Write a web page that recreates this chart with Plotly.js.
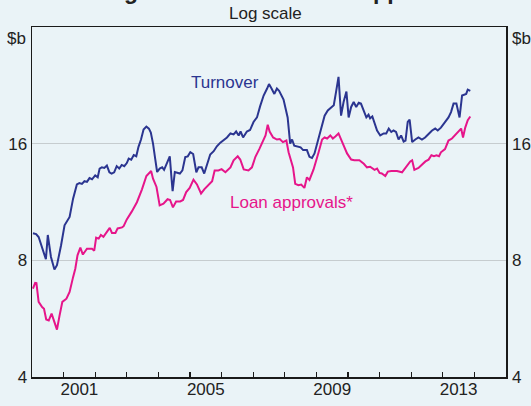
<!DOCTYPE html>
<html>
<head>
<meta charset="utf-8">
<script src="https://cdn.plot.ly/plotly-3.0.1.min.js"></script>
<style>html,body{margin:0;padding:0;background:#eaf3f7;}#chart{width:531px;height:406px;}</style>
</head>
<body>
<div id="chart"></div>
<script>
// Decimal-year positions and values ($b, log scale)
const turnoverX = [2000.03,2000.13,2000.21,2000.32,2000.44,2000.50,2000.60,2000.71,2000.79,2000.92,2001.03,2001.19,2001.30,2001.42,2001.50,2001.58,2001.66,2001.74,2001.82,2001.90,2002.00,2002.08,2002.14,2002.21,2002.29,2002.37,2002.45,2002.52,2002.60,2002.68,2002.76,2002.84,2002.92,2003.00,2003.06,2003.14,2003.22,2003.30,2003.37,2003.45,2003.53,2003.62,2003.70,2003.76,2003.83,2003.90,2003.96,2004.04,2004.12,2004.18,2004.27,2004.36,2004.41,2004.45,2004.52,2004.60,2004.68,2004.76,2004.85,2004.93,2005.01,2005.10,2005.20,2005.27,2005.37,2005.45,2005.54,2005.64,2005.75,2005.85,2005.96,2006.06,2006.17,2006.28,2006.38,2006.46,2006.54,2006.60,2006.68,2006.80,2006.90,2007.01,2007.12,2007.22,2007.33,2007.44,2007.50,2007.58,2007.67,2007.75,2007.82,2007.96,2008.09,2008.17,2008.23,2008.30,2008.39,2008.50,2008.58,2008.70,2008.78,2008.86,2008.94,2009.07,2009.18,2009.26,2009.36,2009.45,2009.55,2009.63,2009.70,2009.78,2009.86,2009.95,2010.02,2010.10,2010.18,2010.26,2010.34,2010.41,2010.49,2010.58,2010.65,2010.70,2010.77,2010.84,2010.92,2011.02,2011.13,2011.21,2011.29,2011.37,2011.44,2011.52,2011.60,2011.68,2011.76,2011.82,2011.89,2011.95,2012.03,2012.13,2012.23,2012.34,2012.44,2012.55,2012.66,2012.76,2012.84,2012.94,2013.05,2013.18,2013.26,2013.34,2013.43,2013.53,2013.61,2013.68,2013.74,2013.79,2013.87];
const turnoverVal = [9.4,9.35,9.19,8.66,8.05,9.3,8.16,7.58,7.77,8.75,9.85,10.35,11.54,12.56,12.66,12.6,12.8,12.75,13.04,12.95,13.25,13.1,13.8,13.9,13.85,14.05,13.5,13.39,13.5,14.0,13.8,14.1,14.0,14.26,14.64,14.55,14.95,14.85,15.7,16.4,17.4,17.7,17.5,17.1,16.0,14.6,13.52,13.8,13.9,13.7,14.2,14.84,13.17,12.07,13.52,13.45,13.4,13.65,14.77,14.84,15.22,15.05,13.5,13.9,13.9,13.4,14.05,15.0,15.3,15.75,16.1,16.3,16.6,17.0,16.9,17.2,16.8,17.2,16.6,17.2,17.35,18.2,18.7,20.0,21.3,22.2,22.8,22.2,21.5,22.2,21.9,20.8,18.7,16.0,16.4,15.8,15.75,15.65,15.4,15.4,14.8,14.7,15.1,16.5,17.6,18.9,19.5,19.8,20.1,21.95,23.8,18.9,20.5,21.8,18.7,19.9,20.5,19.9,20.4,20.3,19.5,18.7,19.0,18.6,18.8,18.0,17.3,16.8,17.0,17.0,17.5,17.15,17.3,17.15,16.4,16.8,16.2,16.3,18.2,18.45,16.15,16.4,16.6,16.4,16.6,16.95,17.3,17.5,17.3,17.6,18.1,18.7,19.3,20.3,20.3,18.7,21.3,21.4,21.5,22.05,21.9];

const loanX = [2000.03,2000.10,2000.14,2000.21,2000.32,2000.38,2000.45,2000.53,2000.62,2000.70,2000.79,2000.87,2000.96,2001.09,2001.19,2001.30,2001.37,2001.44,2001.53,2001.61,2001.74,2001.90,2001.97,2002.03,2002.11,2002.18,2002.26,2002.37,2002.46,2002.53,2002.64,2002.71,2002.85,2002.90,2003.00,2003.16,2003.32,2003.48,2003.62,2003.77,2003.83,2003.94,2004.04,2004.16,2004.29,2004.37,2004.46,2004.56,2004.69,2004.78,2004.88,2004.99,2005.11,2005.22,2005.35,2005.45,2005.59,2005.70,2005.78,2005.90,2006.00,2006.12,2006.28,2006.38,2006.51,2006.59,2006.70,2006.85,2006.96,2007.07,2007.20,2007.33,2007.39,2007.46,2007.52,2007.63,2007.75,2007.84,2007.94,2008.05,2008.12,2008.26,2008.33,2008.43,2008.52,2008.62,2008.70,2008.78,2008.91,2009.07,2009.18,2009.26,2009.34,2009.44,2009.52,2009.60,2009.70,2009.81,2009.97,2010.10,2010.20,2010.36,2010.50,2010.60,2010.70,2010.84,2010.92,2011.00,2011.07,2011.18,2011.26,2011.37,2011.55,2011.71,2011.83,2011.97,2012.03,2012.10,2012.23,2012.34,2012.45,2012.55,2012.64,2012.72,2012.80,2012.88,2012.94,2013.07,2013.18,2013.29,2013.40,2013.50,2013.58,2013.64,2013.71,2013.79,2013.87];
const loanVal = [6.76,7.0,6.99,6.25,6.06,6.0,5.63,5.6,5.83,5.6,5.3,5.75,6.25,6.37,6.63,7.24,7.61,8.24,8.63,8.28,8.57,8.57,8.47,9.15,9.1,9.3,9.2,9.47,9.7,9.41,9.41,9.67,9.73,9.8,10.2,10.7,11.3,12.2,13.2,13.6,13.0,12.37,11.09,11.2,11.5,11.45,10.96,11.35,11.35,11.45,12.0,12.3,12.92,12.56,11.9,12.2,12.5,12.8,13.65,13.65,13.75,13.5,13.9,14.49,14.84,14.56,13.73,13.65,13.9,14.8,15.53,16.5,16.8,17.9,17.2,16.6,16.4,16.45,16.15,16.3,15.2,13.9,12.6,12.5,12.55,12.3,13.1,12.9,13.73,15.2,16.4,16.6,16.5,16.8,16.5,16.7,17.0,16.2,15.1,14.56,14.5,14.5,14.2,13.9,13.95,13.7,13.8,13.45,13.4,13.2,13.55,13.6,13.6,13.5,13.9,14.4,14.5,13.7,13.85,14.1,14.4,14.55,14.93,14.85,14.93,14.85,15.2,15.5,16.3,16.5,16.9,17.3,17.5,16.6,17.6,18.4,18.8];

const yTicks = [4, 8, 16];
const yearTicks = [2000,2001,2002,2003,2004,2005,2006,2007,2008,2009,2010,2011,2012,2013,2014,2015];
const xLabelYears = [2001, 2005, 2009, 2013];

const BG = '#eaf3f7';
const BLUE = '#2b3590';
const PINK = '#e6158a';
const FONT = 'Arial, "Liberation Sans", sans-serif';
const TXT = '#222222';
const AXC = '#1a1a1a';

const traces = [
  {x: turnoverX, y: turnoverVal, type: 'scatter', mode: 'lines', line: {color: BLUE, width: 2}, hoverinfo: 'skip'},
  {x: loanX, y: loanVal, type: 'scatter', mode: 'lines', line: {color: PINK, width: 2}, hoverinfo: 'skip'},
  // invisible copy on the overlay axes so the right-hand labels and year labels render
  {x: loanX, y: loanVal, xaxis: 'x2', yaxis: 'y2', type: 'scatter', mode: 'lines', opacity: 0, line: {color: PINK, width: 0}, hoverinfo: 'skip'}
];

const xRange = [2000, 2015];
const yRange = [Math.log10(4), Math.log10(32)];

const layout = {
  width: 531, height: 406,
  margin: {l: 32, r: 25, t: 27, b: 29, pad: 0},
  paper_bgcolor: BG, plot_bgcolor: BG,
  showlegend: false,
  font: {family: FONT, size: 17, color: TXT},
  xaxis: {
    type: 'linear', range: xRange, fixedrange: true,
    tickmode: 'array', tickvals: yearTicks, ticktext: yearTicks.map(() => ''),
    ticks: 'inside', ticklen: 5, tickwidth: 1.2, tickcolor: AXC,
    showgrid: false, zeroline: false,
    showline: true, linecolor: AXC, linewidth: 1.5, mirror: true
  },
  xaxis2: {
    type: 'linear', range: xRange, overlaying: 'x', side: 'bottom', anchor: 'y2', fixedrange: true,
    tickmode: 'array', tickvals: xLabelYears.map(v => v + 0.5), ticktext: xLabelYears.map(String),
    ticks: '', showgrid: false, zeroline: false, showline: false,
    tickfont: {family: FONT, size: 17, color: TXT}
  },
  yaxis: {
    type: 'log', range: yRange, fixedrange: true,
    tickmode: 'array', tickvals: yTicks, ticktext: yTicks.map(String),
    ticks: '', showgrid: true, gridcolor: '#c6cccf', gridwidth: 1.5, zeroline: false,
    showline: true, linecolor: AXC, linewidth: 1.5, mirror: true,
    tickfont: {family: FONT, size: 17, color: TXT}
  },
  yaxis2: {
    type: 'log', range: yRange, overlaying: 'y', side: 'right', anchor: 'x2', fixedrange: true,
    tickmode: 'array', tickvals: yTicks, ticktext: yTicks.map(String),
    ticks: '', ticklabelstandoff: 5, showgrid: false, zeroline: false, showline: false,
    tickfont: {family: FONT, size: 17, color: TXT}
  },
  annotations: [
    {text: '<b>Housing Turnover and Loan Approvals</b>', xref: 'paper', yref: 'paper', x: 0.476, y: 1.104, xanchor: 'center', yanchor: 'middle', showarrow: false, font: {family: FONT, size: 23, color: TXT}},
    {text: 'Log scale', xref: 'paper', yref: 'paper', x: 0.492, y: 1.038, xanchor: 'center', yanchor: 'middle', showarrow: false, font: {family: FONT, size: 17, color: TXT}},
    {text: '$b', xref: 'paper', yref: 'paper', x: 0, y: 0.9665, xanchor: 'right', yanchor: 'middle', xshift: -4, showarrow: false, font: {family: FONT, size: 17, color: TXT}},
    {text: '$b', xref: 'paper', yref: 'paper', x: 1, y: 0.9665, xanchor: 'left', yanchor: 'middle', xshift: 4, showarrow: false, font: {family: FONT, size: 17, color: TXT}},
    {text: 'Turnover', xref: 'x', yref: 'y', x: 2006.12, y: Math.log10(23.0), xanchor: 'center', yanchor: 'middle', showarrow: false, font: {family: FONT, size: 17, color: BLUE}},
    {text: 'Loan approvals*', xref: 'x', yref: 'y', x: 2008.21, y: Math.log10(11.3), xanchor: 'center', yanchor: 'middle', showarrow: false, font: {family: FONT, size: 17, color: PINK}}
  ]
};

Plotly.newPlot('chart', traces, layout, {staticPlot: true, displayModeBar: false});
</script>
</body>
</html>
